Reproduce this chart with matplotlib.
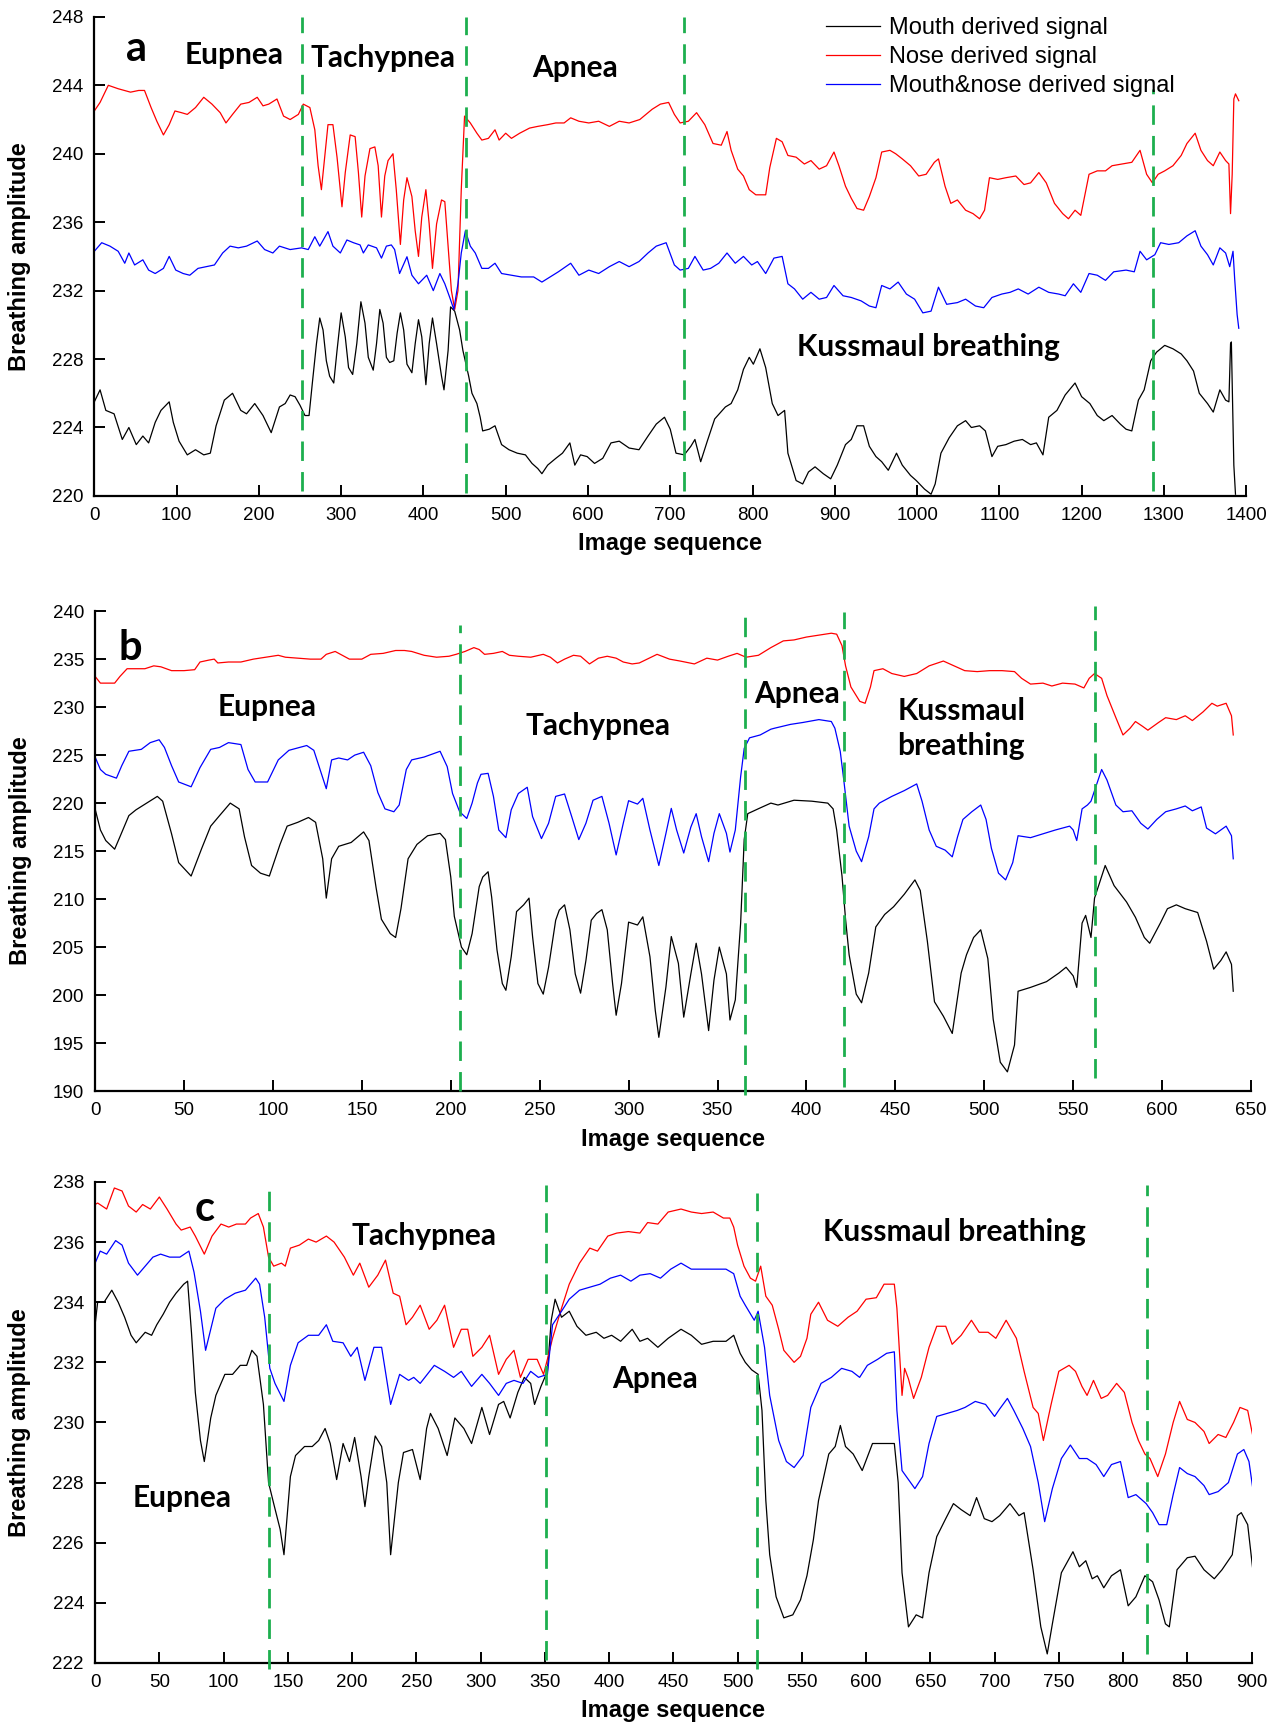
import matplotlib
matplotlib.use("Agg")
from matplotlib import pyplot as plt

# ---------------- Panel a data ----------------
a_red_x = [0, 7, 17, 29, 44, 54, 61, 69, 76, 84, 91, 98, 106, 113, 123, 133, 143, 153, 160, 168,
           178, 188, 198, 205, 212, 222, 230,
           238, 248, 254, 262, 268, 272, 276, 280, 284, 290, 295, 301, 305, 311, 317, 321, 325, 329, 335, 341,
           345, 349, 353, 357, 363, 367, 372, 376, 380, 386, 390, 394, 398, 403, 407, 411, 416, 422, 426, 430,
           434, 438, 442, 446, 450, 457, 465, 471, 479,
           487, 492, 500, 507, 517, 529, 539, 551, 561, 571, 579, 589, 601, 613,
           626, 638, 650, 663, 678, 688, 698, 705, 712, 722, 732, 742, 752, 762, 769, 774, 782, 789, 796, 804,
           816, 821, 829, 836, 843, 853, 863, 871, 881, 890, 899, 905, 913, 920, 927, 935, 942, 950, 957, 967,
           974, 982, 992, 1002, 1011, 1021, 1026, 1034, 1041, 1049, 1059, 1068, 1076, 1082, 1088, 1098, 1108, 1120, 1130, 1138,
           1148, 1157, 1167, 1177, 1184, 1192, 1199, 1209, 1219, 1229, 1237, 1249, 1261, 1271, 1279, 1286, 1293, 1301, 1311, 1321,
           1328, 1338, 1345, 1353, 1360, 1368, 1375, 1379, 1381, 1383, 1385, 1387, 1391]
a_red_y = [242.5, 243.0, 244.0, 243.8, 243.6, 243.7, 243.7, 242.7, 241.9, 241.1, 241.7, 242.5, 242.4, 242.3, 242.7, 243.3, 242.9, 242.4, 241.8, 242.3,
           242.9, 243.0, 243.3, 242.8, 242.9, 243.2, 242.2,
           242.0, 242.3, 242.9, 242.7, 241.4, 239.3, 237.9, 239.8, 241.7, 241.7, 239.8, 236.9, 238.9, 241.1, 241.0, 238.9, 236.3, 238.7, 240.3, 240.4,
           239.3, 236.3, 238.7, 239.6, 240.0, 237.9, 234.7, 237.3, 238.6, 237.5, 235.5, 234.0, 236.3, 237.9, 235.9, 233.3, 235.9, 237.3, 237.2, 234.6,
           232.0, 230.9, 232.0, 237.9, 242.2, 241.8, 241.2, 240.8, 240.9,
           241.4, 240.8, 241.2, 240.9, 241.2, 241.5, 241.6, 241.7, 241.8, 241.8, 242.1, 241.9, 241.8, 241.9,
           241.6, 241.9, 241.8, 242.0, 242.6, 242.9, 243.0, 242.3, 241.8, 241.9, 242.4, 241.7, 240.6, 240.5, 241.3, 240.2, 239.1, 238.7, 237.9, 237.6,
           237.6, 239.2, 240.9, 240.7, 239.9, 239.8, 239.4, 239.6, 239.1, 239.3, 240.1, 239.3, 238.1, 237.4, 236.8, 236.7, 237.5, 238.6, 240.1, 240.2,
           240.0, 239.7, 239.3, 238.7, 238.8, 239.5, 239.7, 238.1, 237.1, 237.3, 236.7, 236.5, 236.2, 236.7, 238.6, 238.5, 238.6, 238.7, 238.2, 238.3,
           238.9, 238.3, 237.1, 236.5, 236.2, 236.7, 236.4, 238.8, 239.0, 239.0, 239.3, 239.4, 239.5, 240.2, 238.8, 238.3, 238.8, 239.0, 239.3, 239.9,
           240.6, 241.2, 240.2, 239.6, 239.3, 240.1, 239.6, 239.4, 236.5, 238.8, 243.2, 243.5, 243.1]

a_blue_x = [0, 9, 19, 29, 37, 42, 49, 59, 66, 74, 84, 91, 99, 108, 116, 126, 136, 146, 156, 165,
            175, 185, 198, 207, 217, 225,
            238, 252, 260, 268, 274, 284, 290, 299, 307, 315, 323, 327, 333, 343, 349, 355, 361, 365, 371, 380,
            386, 394, 404, 412, 420, 426, 432, 437, 442, 446, 451, 457, 463, 471, 479,
            487, 495, 507, 519, 534, 544, 554, 564, 579, 589, 601, 613, 626, 638, 650, 662,
            673, 683, 695, 705, 712, 722, 730, 740, 749, 759, 769, 779, 789, 799, 806, 816, 826, 836, 843, 851,
            861, 871, 881, 890, 899, 910, 920, 932, 942, 950, 957, 967, 977, 987, 997, 1007, 1017, 1026, 1036, 1049,
            1059, 1071, 1081, 1091, 1103, 1113, 1123, 1135, 1148, 1160, 1172, 1180, 1190, 1199, 1209, 1219, 1229, 1239, 1254, 1264,
            1271, 1279, 1289, 1296, 1306, 1318, 1328, 1338, 1345, 1353, 1360, 1368, 1375, 1380, 1384, 1386, 1389, 1391]
a_blue_y = [234.3, 234.8, 234.6, 234.3, 233.6, 234.2, 233.5, 233.8, 233.2, 233.0, 233.3, 234.0, 233.2, 233.0, 232.9, 233.3, 233.4, 233.5, 234.2, 234.6,
            234.5, 234.6, 234.9, 234.4, 234.2, 234.6,
            234.4, 234.5, 234.4, 235.15, 234.6, 235.45, 234.6, 234.2, 234.96, 234.8, 234.67, 234.2, 234.67, 234.5, 233.9, 234.6, 234.67, 234.4, 233.0, 233.98,
            232.9, 232.4, 232.9, 232.0, 233.0, 232.4, 231.6, 230.9, 232.4, 234.2, 235.5, 234.6, 234.2, 233.3, 233.3,
            233.6, 233.0, 232.9, 232.8, 232.8, 232.5, 232.8, 233.1, 233.6, 232.9, 233.2, 233.0, 233.4, 233.7, 233.4, 233.7,
            234.2, 234.6, 234.8, 233.5, 233.2, 233.3, 234.0, 233.2, 233.3, 233.6, 234.2, 233.6, 234.0, 233.5, 233.7, 233.0, 233.9, 234.0, 232.4, 232.1,
            231.5, 231.9, 231.5, 231.6, 232.3, 231.7, 231.6, 231.4, 231.1, 231.0, 232.3, 232.1, 232.5, 231.8, 231.5, 230.7, 230.8, 232.2, 231.2, 231.3,
            231.5, 231.1, 231.0, 231.6, 231.8, 231.9, 232.1, 231.8, 232.2, 231.9, 231.8, 231.7, 232.4, 231.9, 233.0, 232.9, 232.6, 233.1, 233.2, 233.1,
            234.3, 233.8, 234.1, 234.8, 234.7, 234.8, 235.2, 235.5, 234.6, 234.1, 233.5, 234.5, 234.2, 233.4, 234.3, 232.7, 230.6, 229.8]

a_black_x = [0, 7, 14, 24, 34, 42, 51, 59, 66, 74, 81, 91, 96, 103, 113, 123, 133, 141, 148, 158,
             168, 178, 185, 195, 205, 215, 225, 232,
             238, 244, 250, 256, 261, 265, 270, 274, 278, 282, 286, 291, 295, 300, 305, 309, 314, 319, 324, 329,
             333, 339, 343, 347, 351, 355, 359, 364, 368, 372, 376, 380, 386, 390, 394, 398, 403, 407, 411, 416,
             422, 425, 430, 433, 438, 444, 448, 455, 459, 465, 469,
             472, 480, 487, 495, 504, 514, 524, 532, 539, 544, 551, 561, 569, 578, 584,
             591, 599, 608, 618, 628, 638, 650, 662,
             673, 683, 693, 700, 707, 717, 725, 730, 737, 745, 754, 767, 774, 782, 789, 796, 801, 809, 816, 824,
             831, 839, 843, 853, 861, 868, 876, 886, 895, 903, 913, 920, 927, 935, 942, 950, 957, 965, 975, 982,
             992, 999, 1009, 1017, 1022, 1029, 1039, 1049, 1059, 1066, 1076, 1083, 1091, 1098, 1108, 1118, 1128, 1138, 1145, 1153,
             1160, 1170, 1180, 1192, 1200, 1210, 1219, 1227, 1237, 1247, 1254, 1261, 1269, 1276, 1284, 1291, 1301, 1311, 1321, 1328,
             1336, 1343, 1353, 1360, 1368, 1375, 1379, 1381, 1382, 1385, 1387]
a_black_y = [225.5, 226.2, 225.0, 224.8, 223.3, 224.0, 223.0, 223.5, 223.1, 224.3, 225.0, 225.5, 224.3, 223.2, 222.4, 222.7, 222.4, 222.5, 224.1, 225.6,
             226.0, 225.0, 224.8, 225.4, 224.7, 223.7, 225.2, 225.4,
             225.9, 225.8, 225.3, 224.7, 224.7, 226.6, 228.9, 230.4, 229.7, 227.9, 227.0, 226.6, 228.5, 230.7, 229.3, 227.5, 227.1, 228.9, 231.35, 230.1,
             228.1, 227.35, 228.9, 230.9, 230.1, 228.1, 227.8, 227.9, 229.5, 230.7, 229.7, 227.7, 227.2, 228.9, 230.3, 229.3, 226.5, 228.9, 230.4, 228.9,
             227.0, 226.2, 228.5, 231.05, 230.8, 229.7, 228.5, 227.0, 226.0, 225.4, 224.6,
             223.8, 223.9, 224.1, 223.0, 222.7, 222.5, 222.4, 221.9, 221.6, 221.3, 221.8, 222.2, 222.5, 223.1, 221.8,
             222.4, 222.3, 221.9, 222.2, 223.1, 223.2, 222.8, 222.7,
             223.5, 224.2, 224.6, 223.9, 222.5, 222.4, 222.9, 223.3, 222.0, 223.2, 224.5, 225.2, 225.4, 226.2, 227.4, 228.1, 227.7, 228.6, 227.5, 225.4,
             224.7, 225.0, 222.5, 220.9, 220.7, 221.4, 221.7, 221.3, 221.0, 221.8, 223.0, 223.3, 224.1, 224.1, 222.9, 222.3, 222.0, 221.5, 222.5, 221.8,
             221.2, 220.9, 220.4, 220.1, 220.7, 222.5, 223.4, 224.1, 224.4, 224.0, 224.1, 223.8, 222.3, 222.9, 223.0, 223.2, 223.3, 223.0, 223.1, 222.4,
             224.6, 225.0, 225.9, 226.6, 225.8, 225.4, 224.7, 224.4, 224.7, 224.2, 223.9, 223.8, 225.6, 226.2, 227.9, 228.4, 228.8, 228.6, 228.3, 227.9,
             227.3, 226.0, 225.4, 224.9, 226.2, 225.6, 225.5, 228.9, 229.0, 221.8, 220.1]

a_bounds = [252, 452, 717, 1287]
a_bound_bottom = [220.3, 220.2, 220.3, 220.3]
a_bound_top = [248.0, 248.0, 248.0, 243.8]

# ---------------- Panel b data ----------------
b_red_x = [0, 3, 6, 11, 14, 18, 22, 28, 33, 37, 43, 50, 56, 59, 64, 67, 69, 75, 82, 89,
           96, 103, 107, 114, 121, 127, 130, 135, 138, 143, 150, 155, 162, 169, 174, 178, 185, 192, 199, 203,
           208, 213, 216, 219, 224, 229, 233, 238, 245, 252, 256, 260, 264, 269, 273, 278, 283, 288, 293, 297,
           302, 306,
           316, 323, 329, 337, 344, 350, 356, 361, 366, 373, 380, 387, 393, 400, 407, 414, 417, 420, 422, 425,
           430, 433, 436, 438, 443, 448, 455, 462, 469, 477, 483, 489, 496, 503, 510, 517, 521, 526, 533, 538,
           544, 551, 556, 559, 562, 566, 569, 574, 578, 582, 585, 589, 592, 598, 602, 608, 613, 617, 623, 628,
           631, 636, 639, 640]
b_red_y = [233.2, 232.5, 232.5, 232.5, 233.2, 234.0, 234.0, 234.0, 234.3, 234.2, 233.8, 233.8, 233.9, 234.7, 234.9, 235.0, 234.6, 234.7, 234.7, 235.0,
           235.2, 235.4, 235.2, 235.1, 235.0, 235.0, 235.5, 235.8, 235.5, 235.0, 235.0, 235.5, 235.6, 235.9, 235.9, 235.8, 235.4, 235.2, 235.3, 235.5,
           235.8, 236.2, 236.0, 235.5, 235.6, 235.8, 235.4, 235.3, 235.2, 235.5, 235.2, 234.6, 235.0, 235.4, 235.3, 234.5, 235.1, 235.3, 235.1, 234.7,
           234.5, 234.6,
           235.5, 235.0, 234.8, 234.5, 235.1, 234.9, 235.3, 235.6, 235.2, 235.4, 236.2, 236.9, 237.0, 237.3, 237.5, 237.7, 237.6, 236.4, 234.3, 232.1,
           230.6, 230.4, 232.1, 233.8, 234.0, 233.5, 233.2, 233.5, 234.3, 234.8, 234.3, 233.8, 233.7, 233.8, 233.8, 233.7, 233.0, 232.4, 232.5, 232.2,
           232.5, 232.4, 232.0, 233.0, 233.5, 233.0, 231.2, 228.9, 227.1, 227.8, 228.5, 228.0, 227.6, 228.4, 228.9, 228.7, 229.1, 228.6, 229.5, 230.4,
           230.1, 230.4, 229.1, 227.1]

b_blue_x = [0, 3, 6, 12, 15, 19, 26, 31, 36, 39, 43, 47, 54, 59, 65, 70, 75, 82, 86, 90,
            97, 103, 109, 119, 123, 127, 130, 133, 137, 142, 146, 151, 155, 159, 163, 168, 171, 175, 178, 185,
            194, 198, 201, 205, 209, 212, 215, 217, 221, 224, 227, 231, 234, 238, 243, 246, 251, 255, 259, 264,
            268, 272, 276, 280, 285, 289, 293, 297, 300, 305, 308, 312, 317, 321, 324, 327, 331, 335, 338, 341,
            345, 348, 351, 355, 357, 360, 363, 365, 368, 374, 380,
            382, 391, 398, 407, 414, 416, 419, 421, 424, 428, 431, 435, 438, 441, 448, 455, 462, 465, 469,
            473, 478, 482, 485, 488, 493, 498, 501, 504, 508, 512, 516, 519, 526, 533, 540, 548, 550, 552, 555,
            558, 560, 562, 566, 569, 574, 578, 583, 588, 592, 597, 602, 608, 613, 617, 622, 625, 630, 633, 636,
            639, 640]
b_blue_y = [224.8, 223.5, 223.0, 222.6, 223.9, 225.4, 225.6, 226.3, 226.6, 225.8, 223.9, 222.2, 221.7, 223.7, 225.6, 225.8, 226.3, 226.1, 223.5, 222.2,
            222.2, 224.5, 225.5, 226.0, 225.5, 223.2, 221.5, 224.5, 224.7, 224.5, 225.0, 225.3, 223.9, 221.1, 219.4, 219.1, 219.8, 223.5, 224.5, 224.8,
            225.4, 223.8, 221.0, 219.1, 218.4, 220.0, 222.1, 223.0, 223.1, 220.7, 217.2, 216.4, 219.3, 221.0, 221.65, 218.6, 216.3, 217.9, 220.7, 220.95,
            218.6, 216.2, 217.9, 220.3, 220.7, 217.9, 214.6, 217.9, 220.25, 219.9, 220.5, 217.2, 213.5, 216.85, 219.45, 217.2, 214.8, 217.5, 218.9, 216.5,
            213.9, 216.85, 218.9, 216.85, 214.9, 217.2, 222.75, 225.7, 226.8, 227.1, 227.7,
            227.8, 228.2, 228.4, 228.7, 228.5, 227.8, 225.4, 222.4, 217.6, 215.0, 213.9, 216.5, 219.4, 220.0, 220.7, 221.3, 222.0, 220.2, 217.2,
            215.5, 215.1, 214.4, 216.5, 218.3, 219.1, 219.8, 218.3, 215.3, 212.7, 212.0, 213.8, 216.6, 216.4, 216.8, 217.2, 217.6, 217.2, 216.1, 219.4,
            219.8, 220.2, 221.3, 223.5, 222.4, 219.8, 219.1, 219.2, 217.9, 217.3, 218.3, 219.1, 219.4, 219.7, 219.2, 219.6, 217.4, 216.8, 217.2, 217.6,
            216.6, 214.2]

b_black_x = [0, 3, 6, 11, 14, 19, 23, 29, 35, 38, 43, 47, 54, 60, 65, 70, 76, 81, 84, 88,
             93, 98, 104, 108, 114, 120, 124, 128, 130, 133, 137, 144, 151, 154, 158, 161, 166, 169, 172, 176,
             181, 187,
             194, 197, 200, 202, 206, 209, 212, 216, 218, 221, 223, 226, 229, 231, 234, 237, 241, 244, 246, 249,
             252, 255, 259, 261, 264, 267, 270, 273, 276, 279, 282, 285, 288, 291, 293, 296, 300, 305, 308, 312,
             315, 317, 321, 324, 328, 331, 335, 338, 341, 345, 348, 351, 355, 357, 360, 363, 365, 367, 374, 380,
             384, 393, 403, 412, 415, 417, 420, 422, 424, 428, 431, 435, 439, 444, 449, 455, 461, 464, 468,
             472, 477, 482, 487, 490, 494, 498, 502, 505, 509, 513, 517, 519, 526, 535, 542, 546, 550, 552, 555,
             557, 560, 562, 568, 573, 580, 585, 590, 593, 599, 603, 608, 613, 620, 625, 629, 633, 636, 639, 640]
b_black_y = [219.4, 217.2, 216.1, 215.2, 216.5, 218.7, 219.3, 220.0, 220.7, 220.2, 216.8, 213.8, 212.4, 215.3, 217.6, 218.7, 220.0, 219.4, 216.5, 213.5,
             212.7, 212.4, 215.7, 217.6, 218.0, 218.5, 218.0, 214.2, 210.1, 214.2, 215.5, 215.9, 217.0, 216.1, 211.2, 207.9, 206.4, 206.0, 209.0, 214.2,
             215.7, 216.6,
             216.85, 216.2, 212.3, 208.2, 205.0, 204.2, 206.4, 211.3, 212.3, 212.85, 210.2, 204.7, 201.2, 200.5, 204.0, 208.7, 209.4, 210.1, 206.1, 201.2,
             200.1, 202.9, 207.8, 208.85, 209.4, 206.8, 202.2, 200.2, 203.6, 207.8, 208.5, 208.9, 206.8, 201.2, 197.9, 201.2, 207.6, 207.3, 208.15, 204.0,
             198.4, 195.6, 200.85, 206.1, 203.3, 197.7, 202.2, 205.4, 202.2, 196.3, 201.55, 205.0, 202.2, 197.4, 199.5, 207.5, 216.2, 218.9, 219.5, 220.0,
             219.8, 220.3, 220.2, 220.0, 219.4, 217.2, 212.4, 207.9, 204.2, 200.1, 199.2, 202.3, 207.1, 208.4, 209.2, 210.5, 212.0, 210.9, 205.6,
             199.3, 197.8, 196.0, 202.3, 204.2, 206.0, 206.8, 203.8, 197.5, 193.0, 192.0, 194.8, 200.4, 200.8, 201.4, 202.3, 202.9, 202.0, 200.8, 207.5,
             208.3, 206.0, 210.1, 213.5, 211.4, 209.7, 208.1, 206.0, 205.4, 207.5, 209.0, 209.4, 209.0, 208.6, 205.6, 202.7, 203.6, 204.5, 203.2, 200.4]

b_bounds = [205, 365.5, 421, 562]
b_bound_bottom = [190.0, 189.6, 190.4, 191.4]
b_bound_top = [238.6, 239.4, 239.9, 240.5]

# ---------------- Panel c data ----------------
c_red_x = [0, 2, 9, 15, 21, 26, 32, 37, 43, 50, 56, 63, 67, 74, 78, 85, 91, 98, 104, 110,
           117, 121, 127, 131, 135, 139, 145, 148, 152, 159, 166, 172, 180, 186, 194, 201, 206, 213, 220, 226,
           232, 237, 242, 247, 253, 260, 266, 272, 279, 285, 290, 294, 301, 307, 314, 320, 326, 331, 337, 344,
           349, 352, 356, 363, 369, 377, 385, 391, 399, 406, 415, 424,
           430, 438, 446, 456, 464, 472, 481, 489, 494, 497, 500, 505, 510, 514, 518, 522, 527, 532, 536, 544,
           549, 554, 557, 563, 570, 578, 586, 593, 600, 608, 614, 622, 624, 628, 630, 633, 637, 643, 649, 655,
           662, 667, 674, 682, 688, 695, 701, 709, 717, 723, 730, 734, 738, 744, 750, 758, 763, 768, 772, 777,
           783, 788, 795, 801, 807, 812, 817, 821, 827, 833, 839, 844, 850, 856, 863, 867, 874, 880, 886, 891,
           897, 901]
c_red_y = [237.25, 237.3, 237.1, 237.8, 237.7, 237.2, 237.0, 237.25, 237.1, 237.5, 237.1, 236.6, 236.4, 236.5, 236.2, 235.6, 236.2, 236.6, 236.5, 236.6,
           236.6, 236.8, 236.95, 236.5, 235.5, 235.2, 235.3, 235.2, 235.8, 235.9, 236.1, 236.0, 236.2, 236.0, 235.5, 234.9, 235.3, 234.5, 234.9, 235.4,
           234.3, 234.2, 233.25, 233.5, 233.9, 233.1, 233.4, 233.9, 232.5, 233.1, 233.1, 232.2, 232.5, 232.9, 231.6, 232.1, 232.4, 231.5, 232.1, 232.1,
           231.6, 232.1, 232.8, 233.8, 234.6, 235.3, 235.8, 235.7, 236.2, 236.3, 236.35, 236.3,
           236.65, 236.6, 237.0, 237.1, 237.0, 236.95, 237.0, 236.8, 236.8, 236.5, 235.9, 235.2, 234.8, 234.7, 235.2, 234.2, 233.9, 233.1, 232.4, 232.0,
           232.2, 232.8, 233.6, 234.0, 233.4, 233.2, 233.5, 233.7, 234.1, 234.15, 234.6, 234.6, 233.8, 230.9, 231.8, 231.45, 230.8, 231.5, 232.5, 233.2,
           233.2, 232.6, 232.9, 233.4, 233.0, 233.0, 232.8, 233.4, 232.8, 231.7, 230.5, 230.3, 229.4, 230.6, 231.7, 231.9, 231.7, 231.2, 230.9, 231.4,
           230.8, 230.9, 231.3, 231.0, 230.0, 229.4, 228.95, 228.8, 228.2, 228.95, 230.0, 230.7, 230.1, 230.0, 229.7, 229.3, 229.6, 229.5, 230.0, 230.5,
           230.4, 229.55]

c_blue_x = [0, 4, 9, 16, 21, 26, 33, 39, 45, 51, 58, 66, 73, 77, 82, 86, 90, 94, 101, 109,
            117, 125, 128, 132, 136, 140, 147, 152, 158, 166, 174, 180, 185, 193, 199, 204, 210, 217, 223, 230,
            237, 244, 248, 253, 264, 272, 279, 285, 293, 301, 307, 314, 320, 326, 333, 339, 345, 352, 356, 363,
            369, 377, 385, 393, 401, 409, 417, 424,
            432, 440, 448, 456, 464, 472, 481, 491, 497, 502, 506, 513, 516, 521, 525, 532, 538, 544, 551, 557,
            565, 573, 581, 589, 595, 601, 609, 616, 622, 624, 628, 633, 638, 644, 649, 655, 663, 671, 677, 685,
            693, 700, 704, 710, 715, 722, 728, 734, 739, 745, 752, 759, 766, 772, 779, 785, 791, 798, 804, 810,
            818, 823, 828, 834, 839, 844, 850, 856, 863, 867, 874, 882, 889, 894, 898, 901]
c_blue_y = [235.3, 235.7, 235.6, 236.05, 235.9, 235.3, 234.9, 235.2, 235.5, 235.6, 235.5, 235.5, 235.7, 235.0, 233.7, 232.4, 233.1, 233.8, 234.1, 234.3,
            234.4, 234.8, 234.6, 233.5, 231.8, 231.3, 230.7, 231.9, 232.65, 232.9, 232.9, 233.25, 232.7, 232.65, 232.2, 232.5, 231.4, 232.5, 232.5, 230.6,
            231.6, 231.4, 231.5, 231.3, 231.9, 231.7, 231.5, 231.7, 231.2, 231.6, 231.3, 230.9, 231.3, 231.4, 231.3, 231.7, 231.5, 231.6, 233.25, 233.7,
            234.1, 234.4, 234.5, 234.6, 234.8, 234.9, 234.7, 234.9,
            234.95, 234.8, 235.1, 235.3, 235.1, 235.1, 235.1, 235.1, 234.95, 234.2, 233.9, 233.4, 233.7, 232.5, 230.9, 229.4, 228.7, 228.5, 228.9, 230.5,
            231.3, 231.5, 231.8, 231.7, 231.5, 231.9, 232.1, 232.3, 232.35, 230.4, 228.4, 228.1, 227.8, 228.2, 229.3, 230.2, 230.3, 230.4, 230.5, 230.7,
            230.6, 230.2, 230.45, 230.8, 230.4, 229.8, 229.2, 228.0, 226.7, 227.8, 228.8, 229.25, 228.8, 228.8, 228.6, 228.2, 228.6, 228.7, 227.5, 227.6,
            227.3, 227.0, 226.6, 226.6, 227.6, 228.5, 228.3, 228.2, 227.9, 227.6, 227.7, 228.0, 228.95, 229.1, 228.7, 227.8]

c_black_x = [0, 2, 7, 13, 18, 23, 28, 32, 39, 44, 48, 53, 58, 63, 69, 72, 75, 78, 82, 85,
             90, 94, 101, 107, 113, 118, 122, 126, 131, 135, 139, 144, 147, 152, 156, 163, 169, 174, 179, 183,
             188, 193, 198, 202, 207, 210, 213, 218, 223, 227, 230, 236, 240, 247, 253, 258, 261, 267, 274, 280,
             287, 293, 301, 307, 314, 318, 323, 329, 334, 339, 342, 347, 352, 355, 358, 363, 369, 375, 382, 390,
             396, 402, 409, 418, 424,
             430, 438, 446, 456, 464, 472, 481, 491, 497, 502, 506, 511, 516, 519, 522, 525, 530, 536, 543, 549,
             554, 559, 563, 571, 576, 580, 584, 590, 597, 605, 613, 622, 625, 628, 633, 639, 644, 649, 655, 662,
             668, 674, 681, 686, 692, 698, 704, 712, 719, 723, 730, 736, 741, 745, 752, 761, 766, 771, 776, 780,
             785, 791, 798, 804, 810, 817, 823, 828, 833, 836, 842, 850, 856, 863, 871, 877, 885, 889, 892, 897,
             901]
c_black_y = [233.25, 234.0, 234.0, 234.4, 234.0, 233.5, 232.9, 232.65, 233.0, 232.9, 233.25, 233.6, 234.0, 234.3, 234.6, 234.7, 233.0, 231.0, 229.4, 228.7,
             230.15, 230.9, 231.6, 231.6, 231.9, 231.9, 232.4, 232.2, 230.6, 228.0, 227.3, 226.45, 225.6, 228.2, 228.9, 229.2, 229.2, 229.4, 229.8, 229.3,
             228.1, 229.3, 228.7, 229.5, 228.2, 227.2, 228.2, 229.55, 229.2, 228.0, 225.6, 228.0, 229.0, 229.1, 228.1, 229.8, 230.3, 229.8, 228.9, 230.15,
             229.8, 229.3, 230.5, 229.6, 230.6, 230.7, 230.15, 231.0, 231.5, 231.3, 230.6, 231.2, 231.7, 233.4, 234.1, 233.5, 233.7, 233.2, 232.9, 233.0,
             232.8, 232.9, 232.7, 233.1, 232.7,
             232.8, 232.5, 232.8, 233.1, 232.9, 232.6, 232.7, 232.7, 232.9, 232.3, 232.0, 231.75, 231.6, 230.4, 227.4, 225.6, 224.2, 223.5, 223.6, 224.1,
             224.9, 226.1, 227.4, 228.95, 229.2, 229.9, 229.2, 228.95, 228.4, 229.3, 229.3, 229.3, 228.0, 225.0, 223.2, 223.6, 223.5, 225.0, 226.2, 226.8,
             227.3, 227.1, 226.9, 227.5, 226.8, 226.7, 226.9, 227.3, 226.9, 227.0, 225.1, 223.2, 222.3, 223.3, 225.0, 225.7, 225.2, 225.4, 224.8, 224.9,
             224.5, 224.9, 225.1, 223.9, 224.2, 224.9, 224.7, 224.1, 223.3, 223.2, 225.1, 225.5, 225.55, 225.1, 224.8, 225.1, 225.6, 226.9, 227.0, 226.6,
             225.1]

c_bounds = [135, 351, 515, 819]
c_bound_bottom = [221.8, 222.1, 221.8, 222.3]
c_bound_top = [237.7, 237.9, 237.65, 237.9]

# Plot design
plt.rcParams['font.family'] = ['Liberation Sans', 'DejaVu Sans']
green = '#1daf4e'
note_font = dict(family='Lato', fontweight='bold', fontsize=21.5, ha='center', va='center')
letter_font = dict(family='Lato', fontweight='bold', fontsize=30, ha='center', va='center')

fig = plt.figure(figsize=(12.78, 17.22), dpi=100)
ax_a = fig.add_axes([0.0738, 0.7120, 0.9013, 0.2782])
ax_b = fig.add_axes([0.0744, 0.3664, 0.9045, 0.2787])
ax_c = fig.add_axes([0.0744, 0.0343, 0.9049, 0.2793])


def style_axes(ax, xlim, ylim, xticks, yticks):
    ax.set_xlim(xlim)
    ax.set_ylim(ylim)
    ax.set_xticks(xticks)
    ax.set_yticks(yticks)
    ax.spines['top'].set_visible(False)
    ax.spines['right'].set_visible(False)
    for s in ['left', 'bottom']:
        ax.spines[s].set_linewidth(1.6)
    ax.tick_params(direction='in', length=8, width=1.4, labelsize=13.5, pad=8)
    ax.set_xlabel('Image sequence', fontsize=17, fontweight='bold')
    ax.set_ylabel('Breathing amplitude', fontsize=17, fontweight='bold')
    ax.xaxis.set_label_coords(0.5, -0.076)
    ax.yaxis.set_label_coords(-0.055, 0.5)


def draw_bounds(ax, xs, bottoms, tops):
    for x, b, t in zip(xs, bottoms, tops):
        ax.plot([x, x], [b, t], color=green, lw=2, linestyle=(0, (7, 4)), clip_on=False, zorder=3)


# Panel a
ax_a.plot(a_black_x, a_black_y, color='black', lw=0.9, label='Mouth derived signal')
ax_a.plot(a_red_x, a_red_y, color='red', lw=0.9, label='Nose derived signal')
ax_a.plot(a_blue_x, a_blue_y, color='blue', lw=0.9, label='Mouth&nose derived signal')
draw_bounds(ax_a, a_bounds, a_bound_bottom, a_bound_top)
style_axes(ax_a, (0, 1400), (220, 248), range(0, 1401, 100), range(220, 249, 4))
ax_a.text(51, 246.1, 'a', **letter_font)
ax_a.text(170, 245.8, 'Eupnea', **note_font)
ax_a.text(351, 245.6, 'Tachypnea', **note_font)
ax_a.text(584, 245.0, 'Apnea', **note_font)
ax_a.text(1014, 228.7, 'Kussmaul breathing', **note_font)
legend = ax_a.legend(loc='upper left', bbox_to_anchor=(0.635, 1.0), frameon=False, fontsize=17,
                     handlelength=2.3, handletextpad=0.4, labelspacing=0.3, borderaxespad=0, borderpad=0)

# Panel b
ax_b.plot(b_black_x, b_black_y, color='black', lw=0.9)
ax_b.plot(b_red_x, b_red_y, color='red', lw=0.9)
ax_b.plot(b_blue_x, b_blue_y, color='blue', lw=0.9)
draw_bounds(ax_b, b_bounds, b_bound_bottom, b_bound_top)
style_axes(ax_b, (0, 650), (190, 240), range(0, 651, 50), range(190, 241, 5))
ax_b.text(20, 236.2, 'b', **letter_font)
ax_b.text(97, 230.05, 'Eupnea', **note_font)
ax_b.text(282.6, 228.0, 'Tachypnea', **note_font)
ax_b.text(394.5, 231.4, 'Apnea', **note_font)
ax_b.text(487, 227.8, 'Kussmaul\nbreathing', linespacing=1.3, **note_font)

# Panel c
ax_c.plot(c_black_x, c_black_y, color='black', lw=0.9)
ax_c.plot(c_red_x, c_red_y, color='red', lw=0.9)
ax_c.plot(c_blue_x, c_blue_y, color='blue', lw=0.9)
draw_bounds(ax_c, c_bounds, c_bound_bottom, c_bound_top)
style_axes(ax_c, (0, 900), (222, 238), range(0, 901, 50), range(222, 239, 2))
ax_c.text(85, 237.1, 'c', **letter_font)
ax_c.text(256, 236.2, 'Tachypnea', **note_font)
ax_c.text(68, 227.5, 'Eupnea', **note_font)
ax_c.text(436, 231.45, 'Apnea', **note_font)
ax_c.text(669, 236.35, 'Kussmaul breathing', **note_font)

fig.savefig('out.png', dpi=100)
